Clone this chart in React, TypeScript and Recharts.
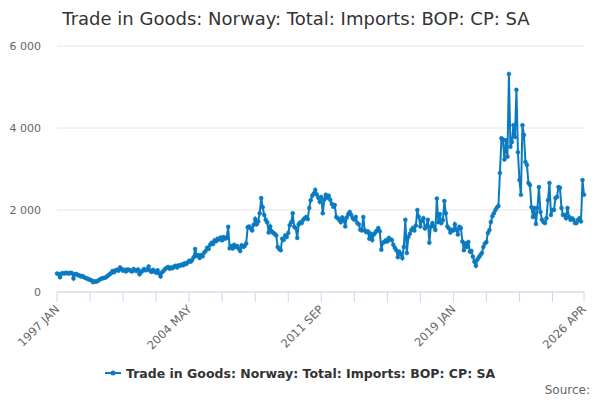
import React from 'react';
import { LineChart, Line, XAxis, YAxis, CartesianGrid } from 'recharts';

const COLOR = '#0a7bc1';
const FONT = 'DejaVu Sans, sans-serif';

const MONTHS = ['JAN', 'FEB', 'MAR', 'APR', 'MAY', 'JUN', 'JUL', 'AUG', 'SEP', 'OCT', 'NOV', 'DEC'];
const START_YEAR = 1997;

// Monthly values
const values1997to2001 = [
  450, 440, 360, 450, 460, 450, 470, 460, 450, 470, 460, 330,
  430, 440, 410, 400, 380, 390, 360, 340, 330, 310, 300, 280,
  240, 260, 250, 270, 290, 320, 330, 340, 350, 370, 400, 430,
  460, 510, 480, 530, 540, 520, 600, 560, 520, 540, 500, 550,
  540, 520, 500, 560, 530, 510, 550, 430, 490, 520, 560, 530,
];
const values2002to2006 = [
  540, 620, 520, 490, 540, 500, 470, 530, 450, 380, 480, 520,
  560, 590, 610, 570, 600, 580, 620, 640, 600, 650, 640, 670,
  650, 700, 680, 720, 760, 740, 780, 850, 1050, 880, 900, 830,
  900, 870, 960, 1000, 1080, 1050, 1150, 1200, 1170, 1260, 1240, 1300,
  1280, 1330, 1260, 1340, 1300, 1320, 1590, 1070, 1120, 1060, 1150, 1100,
];
const values2007to2011 = [
  1120, 1060, 1000, 1140, 1100, 1120, 1180, 1580, 1600, 1550, 1500, 1640,
  1780, 1650, 1720, 1920, 2290, 2070, 1880, 1760, 1700, 1450, 1600, 1480,
  1440, 1420, 1380, 1100, 1050, 1020, 1300, 1270, 1380, 1340, 1440, 1630,
  1700, 1920, 1590, 1560, 1320, 1650, 1700, 1680, 1760, 1800, 1830, 1780,
  2050, 2240, 2350, 2400, 2490, 2380, 2300, 2200, 2320, 1920, 2250, 2370,
];
const values2012to2016 = [
  2300, 2350, 2250, 2150, 2080, 2120, 1830, 1800, 1760, 1700, 1820, 1750,
  1600, 1820, 1900, 1950, 1880, 1800, 1760, 1830, 1680, 1650, 1520, 1500,
  1830, 1500, 1460, 1480, 1300, 1420, 1270, 1400, 1450, 1500, 1560, 1480,
  1030, 1200, 1220, 1260, 1230, 1320, 1280, 1270, 1150, 1080, 1020, 850,
  980, 920, 830, 1100, 1760, 950, 1340, 1420, 1510, 1560, 1500, 1620,
];
const values2017to2021 = [
  2000, 1830, 1600, 1740, 1800, 1550, 1600, 1760, 1200, 1600, 1680, 1600,
  1510, 2280, 1700, 1900, 1680, 1750, 2220, 1920, 1600, 1550, 1450, 1520,
  1500, 1650, 1520, 1400, 1590, 1560, 1230, 1020, 1180, 1100, 1220, 980,
  1000, 860, 740, 640, 790, 850, 900, 950, 1100, 1180, 1220, 1440,
  1510, 1710, 1850, 1920, 2000, 2060, 2100, 2900, 3750, 3720, 3230, 3700,
];
const values2022to2026 = [
  3300, 5320, 3540, 3660, 4070, 3780, 4930, 3410, 2730, 2370, 4070, 3830,
  3170, 3100, 2660, 2610, 2070, 1830, 2050, 1660, 2050, 2560, 1950, 1760,
  1710, 1680, 1800, 2240, 2660, 1880, 2000, 2000, 2290, 2320, 2560, 2540,
  2050, 1880, 1880, 1800, 2050, 1830, 1760, 1800, 1760, 1680, 1680, 1760,
  1800, 1720, 2730, 2370,
];

const values = [
  ...values1997to2001,
  ...values2002to2006,
  ...values2007to2011,
  ...values2012to2016,
  ...values2017to2021,
  ...values2022to2026,
];

const categories = values.map(
  (_, i) => `${START_YEAR + Math.floor(i / 12)} ${MONTHS[i % 12]}`
);

const data = values.map((v, i) => ({ i, label: categories[i], value: v }));

const xTicks = [0, 22, 44, 66, 88, 110, 132, 154, 176, 198, 220, 242, 264, 286, 308, 330, 351];
const xLabelTicks = [0, 88, 176, 264, 351];
const yTicks = [0, 2000, 4000, 6000];

const TITLE = 'Trade in Goods: Norway: Total: Imports: BOP: CP: SA';
const SERIES_NAME = 'Trade in Goods: Norway: Total: Imports: BOP: CP: SA';

const formatY = (v: number) => {
  if (v < 1000) return String(v);
  const th = Math.floor(v / 1000);
  const rest = String(v % 1000).padStart(3, '0');
  return `${th} ${rest}`;
};

const XTick = (props: any) => {
  const { x, y, payload } = props;
  if (!xLabelTicks.includes(payload.value)) return <g />;
  const ax = x + 3;
  const ay = y + 6;
  return (
    <text
      x={ax}
      y={ay}
      transform={`rotate(-45 ${ax} ${ay})`}
      textAnchor="end"
      fill="#666666"
      fontSize={11.5}
      fontFamily={FONT}
    >
      {categories[payload.value]}
    </text>
  );
};

export default function App() {
  return (
    <div
      style={{
        position: 'absolute',
        left: 0,
        top: 0,
        width: 600,
        height: 400,
        background: '#ffffff',
        fontFamily: FONT,
      }}
    >
      <LineChart
        width={600}
        height={400}
        data={data}
        margin={{ top: 46, right: 16, bottom: 48, left: 12 }}
      >
        <CartesianGrid horizontal vertical={false} stroke="#e6e6e6" />
        <XAxis
          dataKey="i"
          type="number"
          domain={[0, 351]}
          ticks={xTicks}
          interval={0}
          height={60}
          tick={<XTick />}
          tickSize={10}
          axisLine={{ stroke: '#ccd6eb' }}
          tickLine={{ stroke: '#ccd6eb' }}
        />
        <YAxis
          domain={[0, 6000]}
          ticks={yTicks}
          width={45}
          tickFormatter={formatY}
          axisLine={false}
          tickLine={false}
          tickSize={0}
          tickMargin={16}
          tick={{ fill: '#666666', fontSize: 11, fontFamily: FONT }}
        />
        <Line
          type="linear"
          dataKey="value"
          stroke={COLOR}
          strokeWidth={2}
          dot={{ r: 2, fill: COLOR, stroke: COLOR, strokeWidth: 0.5 }}
          isAnimationActive={false}
        />
      </LineChart>
      <svg
        width={600}
        height={400}
        style={{ position: 'absolute', left: 0, top: 0, pointerEvents: 'none' }}
      >
        <text x={296} y={25} textAnchor="middle" fontSize={18} fill="#333333" fontFamily={FONT}>
          {TITLE}
        </text>
        <line x1={105} x2={121} y1={373} y2={373} stroke={COLOR} strokeWidth={2} />
        <circle cx={113} cy={373} r={2.5} fill={COLOR} />
        <text x={126} y={377.5} fontSize={12.5} fontWeight="bold" fill="#333333" fontFamily={FONT}>
          {SERIES_NAME}
        </text>
        <text x={590} y={394} textAnchor="end" fontSize={12} fill="#666666" fontFamily={FONT}>
          Source:
        </text>
      </svg>
    </div>
  );
}
